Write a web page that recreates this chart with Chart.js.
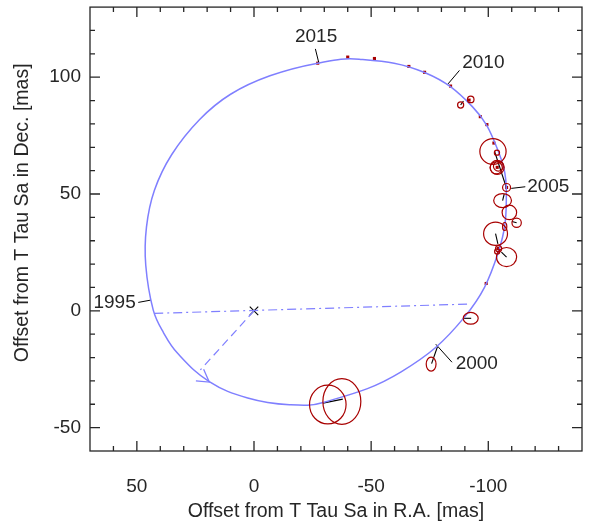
<!DOCTYPE html>
<html>
<head>
<meta charset="utf-8">
<script src="https://cdn.jsdelivr.net/npm/chart.js@4.4.1/dist/chart.umd.min.js"></script>
<style>
  body { margin: 0; background: #fff; }
  canvas { display: block; }
</style>
</head>
<body>
<canvas id="orbit" width="595" height="523"></canvas>
<script>
// T Tau Sb relative to Sa, offsets in mas

// fitted orbit, in order of motion
const orbit = [
  [45.9, 35.8], [42.5, 51.6], [35.1, 66.9], [23.2, 81.9], [10.0, 92.7],
  [-6.8, 100.6], [-27.2, 106.0], [-44.9, 107.7], [-72.8, 102.0], [-93.2, 87.4],
  [-103.6, 70.0], [-107.7, 51.4], [-104.1, 24.5], [-89.9, -2.6], [-62.8, -26.1],
  [-30.0, -39.1], [-15.1, -40.2], [2.7, -37.3], [19.1, -30.3], [32.6, -18.2],
  [38.6, -9.4], [43.0, 0.3], [46.2, 19.5]
];

// measured positions
const observed = [
  [-27.2, 106.0], [-40.0, 108.6], [-51.4, 108.0], [-66.1, 104.6], [-72.8, 102.1],
  [-83.9, 96.2], [-91.8, 90.2], [-96.6, 83.1], [-99.4, 79.7], [-102.4, 71.8],
  [-103.8, 61.4], [-107.8, 52.8], [-104.3, 26.7], [-99.1, 11.7]
];

// error ellipses: centre x, centre y, half width, half height
const errors = [
  [-88.2, 88.1, 1.3, 1.3], [-92.5, 90.5, 1.4, 1.4],
  [-102.0, 68.2, 5.6, 5.5], [-103.7, 67.7, 1.1, 1.1],
  [-103.8, 61.4, 3.0, 3.0], [-103.4, 61.2, 2.6, 2.6], [-104.3, 61.9, 2.1, 2.1],
  [-107.8, 52.8, 1.7, 1.7], [-106.1, 47.2, 3.8, 3.0], [-109.0, 42.1, 3.1, 3.1],
  [-112.1, 37.7, 2.0, 2.0], [-107.0, 36.1, 0.9, 1.7], [-103.1, 33.0, 5.1, 5.0],
  [-104.4, 26.6, 1.3, 1.3], [-103.8, 25.4, 1.1, 1.1], [-107.8, 23.0, 4.3, 4.1],
  [-92.5, -3.2, 3.2, 2.5], [-75.6, -22.8, 2.1, 3.0],
  [-31.5, -40.1, 7.8, 8.3], [-37.5, -38.8, 8.1, 9.8]
];

// residuals: measured point -> orbit
const residuals = [
  [[-102.7, 68.2], [-107.7, 52.8]], [[-75.8, -22.6], [-78.3, -15.4]],
  [[-89.2, -3.2], [-92.7, -3.2]], [[-29.4, -39.5], [-37.9, -37.8]],
  [[-106.1, 47.2], [-106.8, 50.0]], [[-112.1, 37.7], [-110.1, 38.2]],
  [[-103.1, 33.0], [-104.1, 28.7]], [[-107.8, 23.0], [-105.6, 25.1]],
  [[-88.2, 88.1], [-89.4, 89.8]]
];

const nodeLine = [[42.6, -1.1], [-92.0, 2.9]];
const periLine = [[0, 0], [22.9, -25.3]];
const arrowHead = [[24.8, -30.0], [19.1, -30.5], [21.5, -25.0]];

const years = ['2015', '2010', '2005', '2000', '1995'];
const yearPos = [[-26.5, 117.3], [-97.9, 106.0], [-125.6, 53.1], [-95.1, -22.6], [59.5, 3.3]];
const yearLeaders = [
  [[-26.2, 112.1], [-27.6, 106.4]], [[-82.8, 97.1], [-87.7, 102.9]],
  [[-109.8, 52.4], [-115.8, 53.1]], [[-77.6, -14.3], [-84.5, -22.0]],
  [[49.4, 3.6], [44.0, 4.6]]
];

const xTitle = 'Offset from T Tau Sa in R.A. [mas]';
const yTitle = 'Offset from T Tau Sa in Dec. [mas]';

const FONT = '"Liberation Sans", Arial, Helvetica, sans-serif';
const BLUE = '#7f7fff';
const RED = '#a80000';
const INK = '#262626';

const xy = arr => arr.map(p => ({ x: p[0], y: p[1] }));
const segment = (pts, color, extra) => Object.assign({
  data: xy(pts), showLine: true, pointRadius: 0, borderColor: color,
  borderWidth: 1, fill: false
}, extra || {});

// closed curve: pad both ends with the neighbours, then hide the two
// padding segments so every visible piece has proper spline tangents
const orbitLoop = [orbit[orbit.length - 1], ...orbit, orbit[0], orbit[1]];
const lastIdx = orbitLoop.length - 1;

const datasets = [
  segment(orbitLoop, BLUE, {
    borderWidth: 1.5, tension: 0.4,
    segment: {
      borderColor: c => (c.p0DataIndex === 0 || c.p1DataIndex === lastIdx) ? 'rgba(0,0,0,0)' : BLUE
    }
  }),
  segment(nodeLine, BLUE, { borderWidth: 1.2, borderDash: [9, 4, 2, 4] }),
  segment(periLine, BLUE, { borderWidth: 1.2, borderDash: [8, 5] }),
  segment(arrowHead, BLUE, { borderWidth: 1.3 })
];
residuals.forEach(r => datasets.push(segment(r, '#000', { borderWidth: 1.1 })));
yearLeaders.forEach(r => datasets.push(segment(r, '#000', { borderWidth: 1 })));
datasets.push({
  data: xy(observed), pointStyle: 'rect', pointRadius: 2.2,
  backgroundColor: RED, borderColor: RED, borderWidth: 0
});
datasets.push({
  data: [{ x: 0, y: 0 }], pointStyle: 'crossRot', pointRadius: 6,
  borderColor: '#000', borderWidth: 1.1
});

// ellipses, labels, box and inward ticks
const overlay = {
  id: 'overlay',
  afterDatasetsDraw(chart) {
    const { ctx, chartArea: a, scales: { x, y } } = chart;
    ctx.save();
    ctx.beginPath();
    ctx.rect(a.left, a.top, a.right - a.left, a.bottom - a.top);
    ctx.clip();
    ctx.strokeStyle = RED;
    ctx.lineWidth = 1.2;
    errors.forEach(e => {
      const cx = x.getPixelForValue(e[0]);
      const cy = y.getPixelForValue(e[1]);
      const rx = Math.abs(x.getPixelForValue(e[0] + e[2]) - cx);
      const ry = Math.abs(y.getPixelForValue(e[1] + e[3]) - cy);
      ctx.beginPath();
      ctx.ellipse(cx, cy, rx, ry, 0, 0, Math.PI * 2);
      ctx.stroke();
    });
    ctx.fillStyle = INK;
    ctx.font = '19px ' + FONT;
    ctx.textAlign = 'center';
    ctx.textBaseline = 'middle';
    years.forEach((t, i) => {
      ctx.fillText(t, x.getPixelForValue(yearPos[i][0]), y.getPixelForValue(yearPos[i][1]));
    });
    ctx.restore();

    ctx.save();
    ctx.strokeStyle = INK;
    ctx.lineWidth = 1.3;
    ctx.strokeRect(a.left, a.top, a.right - a.left, a.bottom - a.top);
    ctx.beginPath();
    for (let v = -130; v <= 60; v += 10) {
      const px = x.getPixelForValue(v);
      const len = v % 50 === 0 ? 10 : 5;
      ctx.moveTo(px, a.bottom); ctx.lineTo(px, a.bottom - len);
      ctx.moveTo(px, a.top); ctx.lineTo(px, a.top + len);
    }
    for (let v = -50; v <= 120; v += 10) {
      const py = y.getPixelForValue(v);
      const len = v % 50 === 0 ? 10 : 5;
      ctx.moveTo(a.left, py); ctx.lineTo(a.left + len, py);
      ctx.moveTo(a.right, py); ctx.lineTo(a.right - len, py);
    }
    ctx.stroke();
    ctx.restore();
  }
};

new Chart(document.getElementById('orbit'), {
  type: 'scatter',
  data: { datasets: datasets },
  plugins: [overlay],
  options: {
    responsive: false,
    animation: false,
    devicePixelRatio: 1,
    layout: { padding: { top: 5, right: 13, left: 0, bottom: 0 } },
    plugins: { legend: { display: false }, tooltip: { enabled: false } },
    scales: {
      x: {
        type: 'linear', reverse: true, min: -140, max: 70,
        grid: { display: false, drawTicks: false },
        border: { display: false },
        ticks: {
          stepSize: 50, includeBounds: false, padding: 24, maxRotation: 0,
          color: INK, font: { family: FONT, size: 19 }
        },
        title: {
          display: true, text: xTitle, color: INK,
          font: { family: FONT, size: 19.5 }, padding: { top: 1, bottom: 0 }
        },
        afterFit: s => { s.height = 72; s.paddingLeft = 0; s.paddingRight = 0; }
      },
      y: {
        type: 'linear', min: -60, max: 130,
        grid: { display: false, drawTicks: false },
        border: { display: false },
        ticks: {
          stepSize: 50, includeBounds: false, padding: 9,
          color: INK, font: { family: FONT, size: 19 }
        },
        title: {
          display: true, text: '      ' + yTitle, color: INK,
          font: { family: FONT, size: 19.5 }, padding: { top: 11, bottom: 0 }
        },
        afterFit: s => { s.width = 90; s.paddingTop = 0; s.paddingBottom = 0; }
      }
    }
  }
});
</script>
</body>
</html>
